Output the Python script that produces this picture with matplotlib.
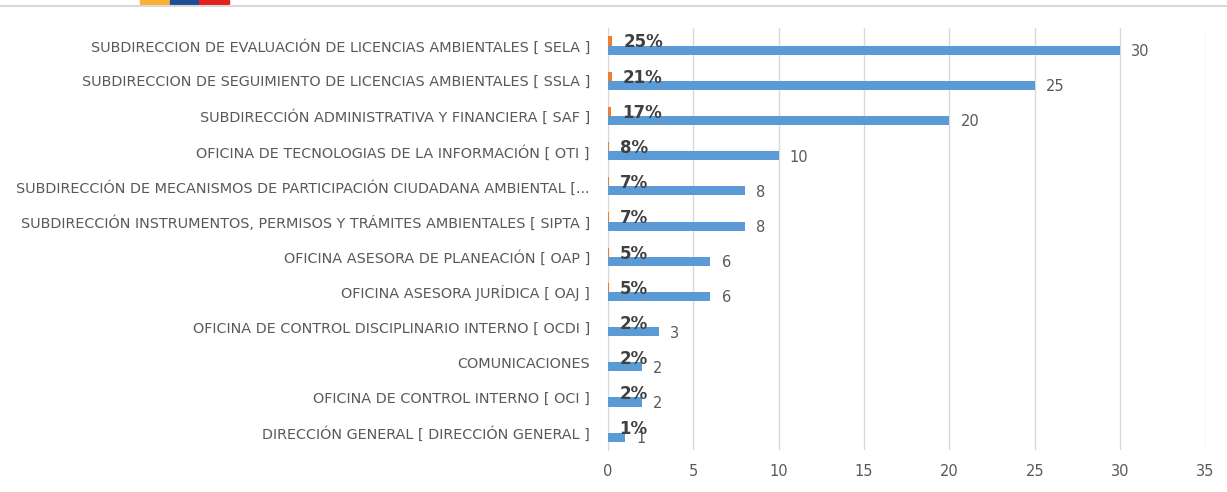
import numpy as np
import matplotlib.pyplot as plt
from matplotlib.patches import Rectangle
from matplotlib.lines import Line2D

categories = [
    "SUBDIRECCION DE EVALUACIÓN DE LICENCIAS AMBIENTALES [ SELA ]",
    "SUBDIRECCION DE SEGUIMIENTO DE LICENCIAS AMBIENTALES [ SSLA ]",
    "SUBDIRECCIÓN ADMINISTRATIVA Y FINANCIERA [ SAF ]",
    "OFICINA DE TECNOLOGIAS DE LA INFORMACIÓN [ OTI ]",
    "SUBDIRECCIÓN DE MECANISMOS DE PARTICIPACIÓN CIUDADANA AMBIENTAL [...",
    "SUBDIRECCIÓN INSTRUMENTOS, PERMISOS Y TRÁMITES AMBIENTALES [ SIPTA ]",
    "OFICINA ASESORA DE PLANEACIÓN [ OAP ]",
    "OFICINA ASESORA JURÍDICA [ OAJ ]",
    "OFICINA DE CONTROL DISCIPLINARIO INTERNO [ OCDI ]",
    "COMUNICACIONES",
    "OFICINA DE CONTROL INTERNO [ OCI ]",
    "DIRECCIÓN GENERAL [ DIRECCIÓN GENERAL ]",
]
counts = [30, 25, 20, 10, 8, 8, 6, 6, 3, 2, 2, 1]
percent = [0.25, 0.21, 0.17, 0.08, 0.07, 0.07, 0.05, 0.05, 0.02, 0.02, 0.02, 0.01]
xticks = [0, 5, 10, 15, 20, 25, 30, 35]

blue = "#5B9BD5"
orange = "#ED7D31"
grey = "#595959"

plt.rcParams['font.family'] = ['DejaVu Sans']

fig = plt.figure(figsize=(12.27, 4.92), dpi=100)
ax = fig.add_axes([0.4955, 0.085, 0.487, 0.858])

y = np.arange(len(categories))
h = 0.26
ax.barh(y + h / 2, counts, height=h, color=blue, zorder=3)
ax.barh(y - h / 2, percent, height=h, color=orange, zorder=3)

for yi, c in zip(y, counts):
    ax.annotate(str(c), (c, yi + h / 2), xytext=(8, -1), textcoords="offset points",
                va="center", ha="left", fontsize=10.5, color=grey)
for yi, p in zip(y, percent):
    ax.annotate(f"{p:.0%}", (p, yi - h / 2), xytext=(8, -1), textcoords="offset points",
                va="center", ha="left", fontsize=12, fontweight="bold", color="#404040",
                zorder=5)

ax.set_ylim(len(categories) - 0.5, -0.5)
ax.set_xlim(0, 35)
ax.set_xticks(xticks)
ax.set_yticks(y)
ax.set_yticklabels(categories)
ax.tick_params(axis="y", length=0, pad=13, labelsize=10.4, labelcolor=grey)
ax.tick_params(axis="x", length=0, pad=10, labelsize=10.5, labelcolor=grey)
ax.grid(axis="x", color="#D9D9D9", linewidth=1, zorder=0)
for s in ["top", "right", "bottom"]:
    ax.spines[s].set_visible(False)
ax.spines["left"].set_color("#D9D9D9")

# header decoration: thin rule and flag strip
fig.add_artist(Line2D([0, 1], [1 - 6 / 492, 1 - 6 / 492], color="#D9D9D9", lw=1.5,
                      transform=fig.transFigure))
for i, col in enumerate(["#F9B233", "#1D4E91", "#E2211C"]):
    fig.add_artist(Rectangle(((140 + i * 29.5) / 1227, 1 - 4 / 492), 29.5 / 1227, 4 / 492,
                             color=col, transform=fig.transFigure))

fig.savefig("out.png", dpi=100)
